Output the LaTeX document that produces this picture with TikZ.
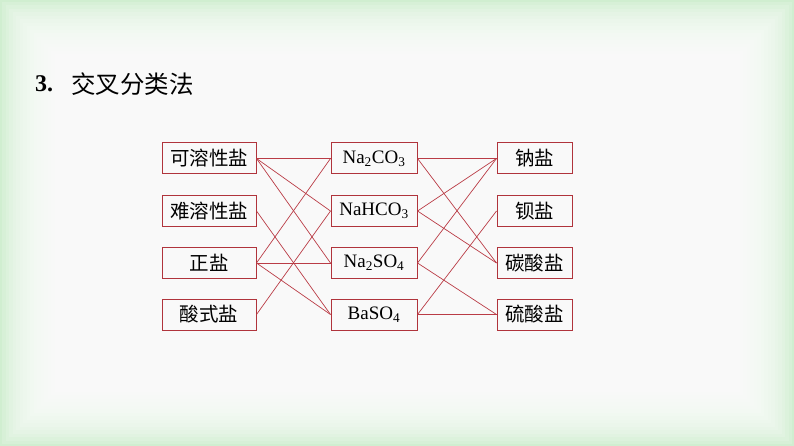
\documentclass[tikz,border=0pt]{standalone}
\usepackage{fontspec}
\setmainfont{Liberation Serif}
\newfontfamily\cjk{Noto Sans CJK SC}
\definecolor{bggreen}{RGB}{208,238,208}
\definecolor{boxred}{RGB}{176,52,60}
\definecolor{linkred}{RGB}{186,60,70}
\tikzset{
  box/.style={draw=boxred, line width=1pt, minimum height=31pt, inner sep=0pt, font=\fontsize{19}{21}\selectfont},
  cbox/.style={font=\fontsize{19.5}{21}\selectfont\cjk},
  lbox/.style={box, minimum width=94pt},
  mbox/.style={box, minimum width=86pt},
  rbox/.style={box, minimum width=75pt},
  link/.style={draw=linkred, line width=0.7pt},
}
\begin{document}
\begin{tikzpicture}[x=1pt,y=-1pt]
\useasboundingbox (0,0) rectangle (794,446);
\fill[bggreen] (0,0) rectangle (794,446);
\foreach \i in {0,...,17} {
  \fill[white, opacity=0.15] (2+\i*3.5,2+\i*3.5) rectangle (792-\i*3.5,444-\i*3.5);
}
% title
\node[anchor=west, inner sep=0pt, font=\fontsize{24}{26}\selectfont\bfseries] (tnum) at (35,84) {3.};
\node[anchor=west, inner sep=0pt, font=\fontsize{24.5}{26}\selectfont\cjk] (ttext) at (71,84) {交叉分类法};
% left column
\node[lbox, cbox] (ks) at (209,158.5) {可溶性盐};
\node[lbox, cbox] (nr) at (209,211) {难溶性盐};
\node[lbox, cbox] (zy) at (209,263) {正盐};
\node[lbox, cbox] (sy) at (209,314.5) {酸式盐};
% middle column
\node[mbox] (m1) at (374,158.5) {Na\textsubscript{2}CO\textsubscript{3}};
\node[mbox] (m2) at (374,211) {NaHCO\textsubscript{3}};
\node[mbox] (m3) at (374,263) {Na\textsubscript{2}SO\textsubscript{4}};
\node[mbox] (m4) at (374,314.5) {BaSO\textsubscript{4}};
% right column
\node[rbox, cbox] (r1) at (534.5,158.5) {钠盐};
\node[rbox, cbox] (r2) at (534.5,211) {钡盐};
\node[rbox, cbox] (r3) at (534.5,263) {碳酸盐};
\node[rbox, cbox] (r4) at (534.5,314.5) {硫酸盐};
% left-middle links
\draw[link] (ks.east) -- (m1.west);
\draw[link] (ks.east) -- (m2.west);
\draw[link] (ks.east) -- (m3.west);
\draw[link] (nr.east) -- (m4.west);
\draw[link] (zy.east) -- (m1.west);
\draw[link] (zy.east) -- (m3.west);
\draw[link] (zy.east) -- (m4.west);
\draw[link] (sy.east) -- (m2.west);
% middle-right links
\draw[link] (m1.east) -- (r1.west);
\draw[link] (m1.east) -- (r3.west);
\draw[link] (m2.east) -- (r1.west);
\draw[link] (m2.east) -- (r3.west);
\draw[link] (m3.east) -- (r1.west);
\draw[link] (m3.east) -- (r4.west);
\draw[link] (m4.east) -- (r2.west);
\draw[link] (m4.east) -- (r4.west);
\end{tikzpicture}
\end{document}
